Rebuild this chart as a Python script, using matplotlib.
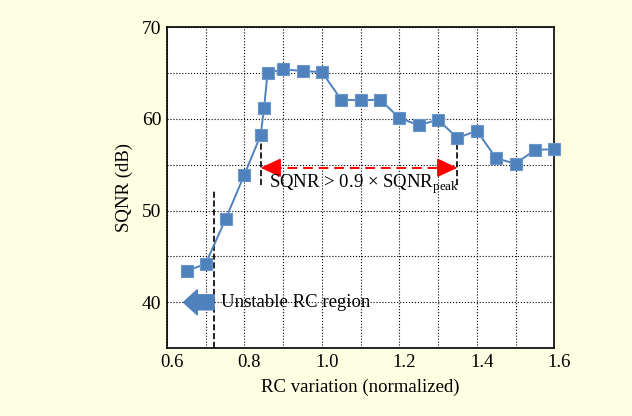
import matplotlib
matplotlib.use("Agg")
import matplotlib.pyplot as plt
from matplotlib.transforms import ScaledTranslation
import numpy as np

# Datos
rc_var = [0.651, 0.700, 0.752, 0.800, 0.842, 0.851, 0.860, 0.900, 0.951, 1.000,
          1.050, 1.100, 1.150, 1.200, 1.250, 1.300, 1.350, 1.400, 1.450, 1.500,
          1.550, 1.600]
sqnr = [43.4, 44.2, 49.1, 53.9, 58.2, 61.2, 65.0, 65.4, 65.2, 65.1,
        62.1, 62.0, 62.1, 60.1, 59.3, 59.9, 57.9, 58.7, 55.7, 55.1,
        56.6, 56.7]
xticks = [0.6, 0.8, 1.0, 1.2, 1.4, 1.6]
xtick_labels = ["0.6", "0.8", "1.0", "1.2", "1.4", "1.6"]
yticks = [40, 50, 60, 70]
unstable_x = 0.721
band_lo, band_hi = 0.842, 1.350
band_y = 54.66

plt.rcParams['font.family'] = ['Liberation Serif', 'DejaVu Serif']
plt.rcParams['mathtext.fontset'] = 'custom'
plt.rcParams['mathtext.rm'] = 'Liberation Serif'

azul = "#4F81BD"

fig = plt.figure(figsize=(6.32, 4.16), dpi=100, facecolor="#FEFEE2")
ax = fig.add_axes([0.264, 0.163, 0.613, 0.772])
ax.set_facecolor("white")

ax.plot(rc_var, sqnr, color=azul, linewidth=1.4, marker="s", markersize=8.5,
        markerfacecolor=azul, markeredgecolor="#6A96CC", markeredgewidth=0.8,
        zorder=5, clip_on=False)

ax.set_xlim(0.6, 1.6)
ax.set_ylim(35, 70)
ax.set_xticks(xticks)
ax.set_xticklabels(xtick_labels, fontsize=13.5)
ax.set_xticks(np.arange(0.7, 1.6, 0.2), minor=True)
ax.set_yticks(yticks)
ax.set_yticklabels([str(v) for v in yticks], fontsize=14)
ax.set_yticks([45, 55, 65], minor=True)
ax.tick_params(which="both", length=0, pad=4)
for lbl in ax.get_xticklabels():
    lbl.set_transform(lbl.get_transform() + ScaledTranslation(5 / 100, 0, fig.dpi_scale_trans))
ax.grid(which="both", color="black", linestyle=":", linewidth=0.8)
for s in ax.spines.values():
    s.set_linewidth(1.2)

ax.set_xlabel("RC variation (normalized)", fontsize=13.5, labelpad=6)
ax.set_ylabel("SQNR (dB)", fontsize=13.5, labelpad=6)

# Región inestable
ax.plot([unstable_x, unstable_x], [35, 52.3], color="black", linestyle="--", linewidth=1.2)
ax.annotate("", xy=(0.643, 40.0), xytext=(0.722, 40.0),
            arrowprops=dict(arrowstyle="simple,head_length=0.55,head_width=1.0,tail_width=0.6",
                            facecolor=azul, edgecolor=azul, shrinkA=0, shrinkB=0,
                            mutation_scale=18),
            annotation_clip=False)
ax.text(0.741, 40.0, "Unstable RC region", fontsize=13.5, va="center", ha="left")

# Rango SQNR > 0.9 pico
for xv in (band_lo, band_hi):
    ax.plot([xv, xv], [52.8, 57.9], color="black", linestyle="--", linewidth=1.2)
ax.plot([band_lo + 0.03, band_hi - 0.03], [band_y, band_y], color="red",
        linestyle=(0, (5, 3)), linewidth=1.4)
for x0, x1 in ((band_lo + 0.036, band_lo), (band_hi - 0.036, band_hi)):
    ax.annotate("", xy=(x1, band_y), xytext=(x0, band_y),
                arrowprops=dict(arrowstyle="-|>,head_length=0.9,head_width=0.42",
                                color="red", linewidth=1.2,
                                shrinkA=0, shrinkB=0, mutation_scale=14))
ax.text(0.863, 52.9, r"SQNR > 0.9 × SQNR$_{\mathrm{peak}}$", fontsize=13.5,
        va="center", ha="left")

plt.savefig("out.png", dpi=100, facecolor=fig.get_facecolor())
